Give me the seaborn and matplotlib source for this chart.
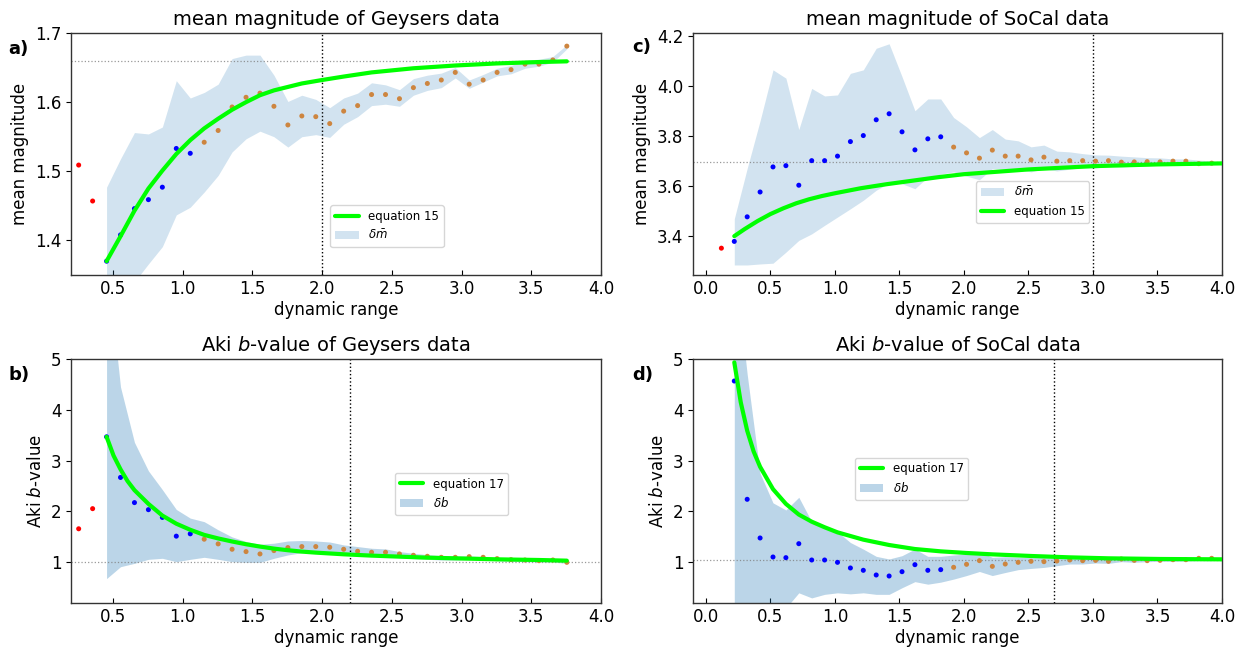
import numpy as np
import matplotlib
matplotlib.use("Agg")
import matplotlib.pyplot as plt
import seaborn as sns
from matplotlib.lines import Line2D
from matplotlib.patches import Patch

# ---- Geysers data (panels a, b) ----
geys_x = [0.255, 0.355, 0.455, 0.555, 0.655, 0.755, 0.855, 0.955, 1.055, 1.155,
          1.255, 1.355, 1.455, 1.555, 1.655, 1.755, 1.855, 1.955, 2.055, 2.155,
          2.255, 2.355, 2.455, 2.555, 2.655, 2.755, 2.855, 2.955, 3.055, 3.155,
          3.255, 3.355, 3.455, 3.555, 3.655, 3.755]
geys_group = ['red'] * 2 + ['blue'] * 7 + ['orange'] * 27
geys_mean = [1.509, 1.457, 1.370, 1.408, 1.446, 1.459, 1.477, 1.533, 1.526, 1.542,
             1.559, 1.593, 1.607, 1.613, 1.594, 1.567, 1.580, 1.579, 1.569, 1.587,
             1.595, 1.611, 1.611, 1.605, 1.621, 1.627, 1.632, 1.643, 1.626, 1.632,
             1.643, 1.647, 1.655, 1.655, 1.661, 1.681]
# band starts at the third point (x = 0.455)
geys_mean_hi = [1.477, 1.518, 1.556, 1.554, 1.564, 1.631, 1.606, 1.614, 1.626, 1.663,
                1.668, 1.668, 1.639, 1.601, 1.610, 1.604, 1.592, 1.606, 1.613, 1.628,
                1.625, 1.618, 1.634, 1.639, 1.642, 1.650, 1.632, 1.640, 1.649, 1.653,
                1.661, 1.662, 1.666, 1.683]
geys_mean_lo = [1.26, 1.30, 1.34, 1.366, 1.391, 1.437, 1.448, 1.470, 1.494, 1.528,
                1.547, 1.558, 1.550, 1.535, 1.550, 1.553, 1.549, 1.568, 1.579, 1.595,
                1.597, 1.594, 1.610, 1.617, 1.621, 1.635, 1.620, 1.629, 1.638, 1.641,
                1.649, 1.652, 1.658, 1.677]
eq15_geys_x = [0.455, 0.555, 0.655, 0.755, 0.855, 0.955, 1.055, 1.155, 1.255, 1.355,
               1.455, 1.555, 1.655, 1.755, 1.855, 2.0, 2.155, 2.355, 2.655, 2.955,
               3.255, 3.555, 3.755]
eq15_geys_y = [1.370, 1.406, 1.443, 1.475, 1.501, 1.525, 1.545, 1.562, 1.576, 1.589,
               1.600, 1.610, 1.617, 1.622, 1.627, 1.632, 1.637, 1.643, 1.649, 1.653,
               1.656, 1.658, 1.659]

geys_b = [1.66, 2.056, 3.469, 2.67, 2.175, 2.036, 1.884, 1.515, 1.561, 1.455,
          1.363, 1.257, 1.211, 1.165, 1.231, 1.29, 1.31, 1.31, 1.297, 1.257,
          1.218, 1.198, 1.198, 1.165, 1.139, 1.119, 1.099, 1.099, 1.112, 1.099,
          1.073, 1.053, 1.046, 1.033, 1.046, 1.0]
geys_b_hi = [7.0, 4.45, 3.36, 2.80, 2.43, 2.04, 1.87, 1.80, 1.64, 1.50,
             1.41, 1.356, 1.376, 1.42, 1.43, 1.42, 1.40, 1.343, 1.31, 1.277,
             1.264, 1.211, 1.178, 1.152, 1.132, 1.125, 1.125, 1.112, 1.092, 1.073,
             1.066, 1.059, 1.073, 1.033]
geys_b_lo = [0.68, 0.914, 0.98, 1.059, 1.079, 1.013, 1.059, 1.099, 1.059, 1.013,
             1.0, 1.0, 1.079, 1.145, 1.191, 1.211, 1.191, 1.165, 1.139, 1.125,
             1.119, 1.092, 1.073, 1.059, 1.046, 1.046, 1.053, 1.046, 1.033, 1.02,
             1.013, 1.007, 1.007, 0.98]
eq17_geys_x = [0.455, 0.505, 0.555, 0.605, 0.655, 0.755, 0.855, 0.955, 1.055, 1.155,
               1.255, 1.355, 1.455, 1.555, 1.655, 1.755, 1.855, 1.955, 2.155, 2.355,
               2.555, 2.755, 2.955, 3.255, 3.555, 3.755]
eq17_geys_y = [3.47, 3.10, 2.83, 2.60, 2.42, 2.15, 1.92, 1.76, 1.64, 1.54,
               1.47, 1.41, 1.356, 1.31, 1.27, 1.238, 1.211, 1.191, 1.158, 1.132,
               1.112, 1.092, 1.079, 1.059, 1.046, 1.033]

# ---- SoCal data (panels c, d) ----
socal_x = [0.12, 0.22, 0.32, 0.42, 0.52, 0.62, 0.72, 0.82, 0.92, 1.02,
           1.12, 1.22, 1.32, 1.42, 1.52, 1.62, 1.72, 1.82, 1.92, 2.02,
           2.12, 2.22, 2.32, 2.42, 2.52, 2.62, 2.72, 2.82, 2.92, 3.02,
           3.12, 3.22, 3.32, 3.42, 3.52, 3.62, 3.72, 3.82, 3.92]
socal_group = ['red'] * 1 + ['blue'] * 17 + ['orange'] * 21
socal_mean = [3.352, 3.379, 3.477, 3.576, 3.676, 3.681, 3.603, 3.701, 3.701, 3.719,
              3.777, 3.801, 3.864, 3.888, 3.816, 3.744, 3.788, 3.796, 3.755, 3.732,
              3.711, 3.743, 3.719, 3.719, 3.704, 3.715, 3.699, 3.701, 3.701, 3.699,
              3.701, 3.695, 3.696, 3.697, 3.696, 3.699, 3.699, 3.689, 3.691]
socal_mean_hi = [3.469, 3.67, 3.86, 4.063, 4.03, 3.825, 3.989, 3.959, 3.963, 4.049,
                 4.063, 4.149, 4.167, 4.036, 3.900, 3.947, 3.947, 3.873, 3.836, 3.793,
                 3.825, 3.787, 3.78, 3.756, 3.763, 3.739, 3.736, 3.729, 3.724, 3.723,
                 3.719, 3.716, 3.713, 3.712, 3.708, 3.708, 3.703, 3.70]
socal_mean_lo = [3.285, 3.285, 3.289, 3.292, 3.336, 3.383, 3.409, 3.443, 3.476, 3.509,
                 3.543, 3.583, 3.612, 3.609, 3.589, 3.636, 3.647, 3.656, 3.639, 3.625,
                 3.669, 3.667, 3.667, 3.656, 3.669, 3.66, 3.667, 3.673, 3.672, 3.679,
                 3.676, 3.679, 3.68, 3.683, 3.684, 3.685, 3.685, 3.687]
eq15_socal_x = [0.22, 0.3, 0.4, 0.5, 0.6, 0.7, 0.8, 0.9, 1.0, 1.2,
                1.4, 1.6, 1.8, 2.0, 2.5, 3.0, 3.5, 4.0]
eq15_socal_y = [3.40, 3.428, 3.46, 3.488, 3.511, 3.531, 3.547, 3.560, 3.571, 3.591,
                3.607, 3.621, 3.635, 3.647, 3.666, 3.679, 3.686, 3.69]

# no red point for SoCal b-value: values start at x = 0.22
socal_b = [4.567, 2.24, 1.479, 1.105, 1.092, 1.367, 1.046, 1.046, 1.0, 0.889,
           0.843, 0.751, 0.731, 0.816, 0.954, 0.843, 0.856, 0.902, 0.961, 1.033,
           0.921, 0.967, 1.0, 1.02, 1.013, 1.026, 1.046, 1.033, 1.039, 1.02,
           1.066, 1.039, 1.033, 1.039, 1.052, 1.052, 1.079, 1.079]
socal_b_hi = [7.0, 4.7, 2.75, 2.17, 2.03, 2.28, 1.80, 1.72, 1.60, 1.39,
              1.26, 1.118, 1.066, 1.131, 1.262, 1.118, 1.118, 1.144, 1.164, 1.21,
              1.098, 1.111, 1.098, 1.092, 1.092, 1.079, 1.079, 1.079, 1.092, 1.066,
              1.098, 1.079, 1.079, 1.079, 1.079, 1.079, 1.092, 1.092]
socal_b_lo = [-3.0, -2.0, -1.0, -0.3, 0.1, 0.40, 0.30, 0.37, 0.40, 0.38,
              0.40, 0.37, 0.37, 0.50, 0.62, 0.57, 0.61, 0.67, 0.74, 0.82,
              0.74, 0.80, 0.856, 0.88, 0.90, 0.934, 0.967, 0.967, 0.987, 0.98,
              1.013, 1.0, 1.013, 1.02, 1.02, 1.026, 1.033, 1.033]
eq17_socal_x = [0.22, 0.27, 0.32, 0.37, 0.42, 0.52, 0.62, 0.72, 0.82, 0.92,
                1.02, 1.22, 1.42, 1.62, 1.82, 2.02, 2.22, 2.52, 2.82, 3.12,
                3.52, 4.0]
eq17_socal_y = [4.934, 4.15, 3.59, 3.18, 2.88, 2.44, 2.15, 1.94, 1.80, 1.69,
                1.59, 1.446, 1.341, 1.262, 1.216, 1.184, 1.157, 1.125, 1.098, 1.079,
                1.066, 1.059]

point_colors = {'red': '#ff0000', 'blue': '#0000ff', 'orange': '#cd853f'}

sns.set_style('white')
plt.rcParams['font.family'] = ['DejaVu Sans']
plt.rcParams['text.color'] = 'black'
plt.rcParams['axes.labelcolor'] = 'black'
plt.rcParams['xtick.color'] = 'black'
plt.rcParams['ytick.color'] = 'black'

fig = plt.figure(figsize=(12.46, 6.51), dpi=100)
ax_a = fig.add_axes([71 / 1246, 1 - 275 / 651, 530 / 1246, 242 / 651])
ax_c = fig.add_axes([693 / 1246, 1 - 275 / 651, 529 / 1246, 242 / 651])
ax_b = fig.add_axes([71 / 1246, 1 - 603 / 651, 530 / 1246, 244 / 651])
ax_d = fig.add_axes([693 / 1246, 1 - 603 / 651, 529 / 1246, 244 / 651])


def panel(ax, x, vals, groups, band_x, lo, hi, alpha, eq_x, eq_y, eq_label,
          band_label, hline, vline, xlim, ylim, title, ylabel, legend_pos,
          band_first=False):
    ax.fill_between(band_x, lo, hi, color='tab:blue', alpha=alpha, lw=0)
    ax.axhline(hline, color='gray', ls=':', lw=0.9, alpha=0.8)
    ax.axvline(vline, color='black', ls=':', lw=1.0)
    sns.scatterplot(x=x, y=vals, hue=groups, palette=point_colors, s=13,
                    linewidth=0, legend=False, ax=ax, zorder=3)
    sns.lineplot(x=eq_x, y=eq_y, color='#00ff00', lw=3, ax=ax, zorder=4)
    ax.set_xlim(*xlim)
    ax.set_ylim(*ylim)
    ax.set_title(title, fontsize=14)
    ax.set_xlabel('dynamic range', fontsize=12, labelpad=2)
    ax.set_ylabel(ylabel, fontsize=12)
    ax.tick_params(axis='x', direction='in', length=3.5, labelsize=12, bottom=True)
    ax.tick_params(axis='y', direction='out', length=3.5, labelsize=12, left=True)
    for sp in ax.spines.values():
        sp.set_color('#333333')
        sp.set_linewidth(1.0)
    h_line = Line2D([], [], color='#00ff00', lw=3)
    h_band = Patch(facecolor='tab:blue', alpha=alpha, lw=0)
    if band_first:
        handles, labels = [h_band, h_line], [band_label, eq_label]
    else:
        handles, labels = [h_line, h_band], [eq_label, band_label]
    ax.legend(handles, labels, loc='lower left', bbox_to_anchor=legend_pos,
              borderaxespad=0, fontsize=8.5, frameon=True, edgecolor='#cccccc')


panel(ax_a, geys_x, geys_mean, geys_group, geys_x[2:], geys_mean_lo, geys_mean_hi,
      0.2, eq15_geys_x, eq15_geys_y, 'equation 15', r'$\delta\bar{m}$',
      1.659, 2.0, (0.2, 4.0), (1.35, 1.7), 'mean magnitude of Geysers data',
      'mean magnitude', (0.489, 0.116))
ax_a.set_yticks([1.4, 1.5, 1.6, 1.7])

panel(ax_b, geys_x, geys_b, geys_group, geys_x[2:], geys_b_lo, geys_b_hi,
      0.3, eq17_geys_x, eq17_geys_y, 'equation 17', r'$\delta b$',
      1.01, 2.2, (0.2, 4.0), (0.2, 5.0), r'Aki $b$-value of Geysers data',
      r'Aki $b$-value', (0.611, 0.36))
ax_b.set_yticks([1, 2, 3, 4, 5])

panel(ax_c, socal_x, socal_mean, socal_group, socal_x[1:], socal_mean_lo, socal_mean_hi,
      0.2, eq15_socal_x, eq15_socal_y, 'equation 15', r'$\delta\bar{m}$',
      3.696, 3.0, (-0.1, 4.0), (3.245, 4.21), 'mean magnitude of SoCal data',
      'mean magnitude', (0.535, 0.215), band_first=True)
ax_c.set_yticks([3.4, 3.6, 3.8, 4.0, 4.2])

panel(ax_d, socal_x[1:], socal_b, socal_group[1:], socal_x[1:], socal_b_lo, socal_b_hi,
      0.3, eq17_socal_x, eq17_socal_y, 'equation 17', r'$\delta b$',
      1.05, 2.7, (-0.1, 4.0), (0.2, 5.0), r'Aki $b$-value of SoCal data',
      r'Aki $b$-value', (0.306, 0.422))
ax_d.set_yticks([1, 2, 3, 4, 5])

for lab, (fx, fy) in zip(['a)', 'b)', 'c)', 'd)'],
                         [(8, 49), (8, 375), (632, 47), (632, 375)]):
    fig.text(fx / 1246, 1 - fy / 651, lab, fontsize=13, fontweight='bold',
             va='center', ha='left')

fig.savefig('out.png', dpi=100)
